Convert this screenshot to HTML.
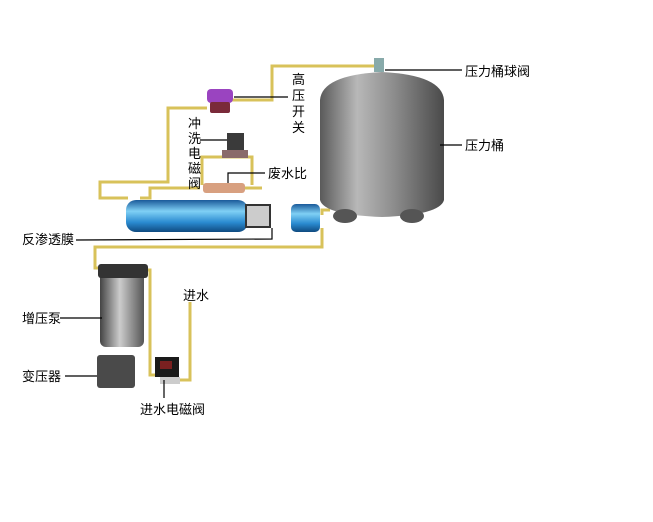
<!DOCTYPE html>
<html><head><meta charset="utf-8"><style>
html,body{margin:0;padding:0;background:#fff;}
svg{display:block;}
text{font-family:"Liberation Sans","Noto Sans CJK SC",sans-serif;font-size:13px;fill:#000;}
</style></head><body>
<svg width="653" height="522" viewBox="0 0 653 522" xmlns="http://www.w3.org/2000/svg">
<defs>
<linearGradient id="tank" x1="0" x2="1" y1="0" y2="0">
<stop offset="0" stop-color="#5a5a5a"/><stop offset="0.3" stop-color="#b8b8b8"/><stop offset="0.6" stop-color="#8c8c8c"/><stop offset="1" stop-color="#4a4a4a"/>
</linearGradient>
<linearGradient id="mem" x1="0" x2="0" y1="0" y2="1">
<stop offset="0" stop-color="#1a5a9a"/><stop offset="0.35" stop-color="#7fd0f5"/><stop offset="0.7" stop-color="#2a8ad0"/><stop offset="1" stop-color="#0f4a80"/>
</linearGradient>
<linearGradient id="pump" x1="0" x2="1" y1="0" y2="0">
<stop offset="0" stop-color="#444"/><stop offset="0.45" stop-color="#ccc"/><stop offset="1" stop-color="#555"/>
</linearGradient>
</defs>
<g fill="none" stroke="#d8c25a" stroke-width="3">
<polyline points="232,100 272,100 272,66 378,66"/>
<polyline points="207,108 168,108 168,182 100,182 100,198 128,198"/>
<polyline points="202,185 202,157 252,157 252,185"/>
<polyline points="140,198 150,198 150,188 200,188"/>
<polyline points="245,188 262,188"/>
<polyline points="322,228 322,247 95,247 95,268 105,268"/>
<polyline points="322,215 322,210 330,210"/>
<polyline points="143,270 150,270 150,375 165,375"/>
<polyline points="180,380 190,380 190,302"/>
</g>
<!-- tank -->
<path d="M320,100 Q322,75 382,72 Q442,75 444,100 L444,200 Q440,215 382,217 Q324,215 320,200 Z" fill="url(#tank)"/>
<ellipse cx="345" cy="216" rx="12" ry="7" fill="#555"/>
<ellipse cx="412" cy="216" rx="12" ry="7" fill="#555"/>
<rect x="374" y="58" width="10" height="14" fill="#8aa"/>
<!-- purple valve -->
<rect x="207" y="89" width="26" height="14" rx="4" fill="#9a44c0"/>
<rect x="210" y="102" width="20" height="11" rx="2" fill="#7a2a3a"/>
<!-- solenoid flush -->
<rect x="227" y="133" width="17" height="20" fill="#3a3a3a"/>
<rect x="222" y="150" width="26" height="8" fill="#8a6a6a"/>
<!-- waste ratio -->
<rect x="203" y="183" width="42" height="10" rx="3" fill="#d8a080"/>
<!-- membrane -->
<rect x="126" y="200" width="122" height="32" rx="10" fill="url(#mem)"/>
<rect x="246" y="205" width="24" height="22" fill="#ccc" stroke="#333" stroke-width="2"/>
<rect x="291" y="204" width="29" height="28" rx="5" fill="url(#mem)"/>
<!-- pump -->
<rect x="100" y="272" width="44" height="75" rx="6" fill="url(#pump)"/>
<rect x="98" y="264" width="50" height="14" rx="3" fill="#333"/>
<!-- transformer -->
<rect x="97" y="355" width="38" height="33" rx="3" fill="#4a4a4a"/>
<!-- inlet solenoid -->
<rect x="155" y="357" width="24" height="20" fill="#1a1a1a"/>
<rect x="160" y="361" width="12" height="8" fill="#7a2020"/>
<rect x="160" y="377" width="20" height="7" fill="#ccc"/>
<!-- leader lines -->
<g stroke="#000" stroke-width="1.2" fill="none">
<line x1="385" y1="70" x2="462" y2="70"/>
<line x1="440" y1="145" x2="462" y2="145"/>
<line x1="234" y1="97" x2="288" y2="97"/>
<line x1="200" y1="140" x2="227" y2="140"/>
<polyline points="228,183 228,173 265,173"/>
<polyline points="76,240 272,239 272,228"/>
<line x1="60" y1="318" x2="102" y2="318"/>
<line x1="65" y1="376" x2="97" y2="376"/>
<line x1="164" y1="380" x2="164" y2="398"/>
</g>
<text x="292" y="84">高</text><text x="292" y="100">压</text><text x="292" y="116">开</text><text x="292" y="132">关</text>
<text x="465" y="76">压力桶球阀</text>
<text x="465" y="150">压力桶</text>
<text x="188" y="128" font-size="12">冲</text><text x="188" y="143" font-size="12">洗</text><text x="188" y="158" font-size="12">电</text><text x="188" y="173" font-size="12">磁</text><text x="188" y="188" font-size="12">阀</text>
<text x="268" y="178">废水比</text>
<text x="22" y="244">反渗透膜</text>
<text x="183" y="300">进水</text>
<text x="22" y="323">增压泵</text>
<text x="22" y="381">变压器</text>
<text x="140" y="414">进水电磁阀</text>
</svg>
</body></html>
